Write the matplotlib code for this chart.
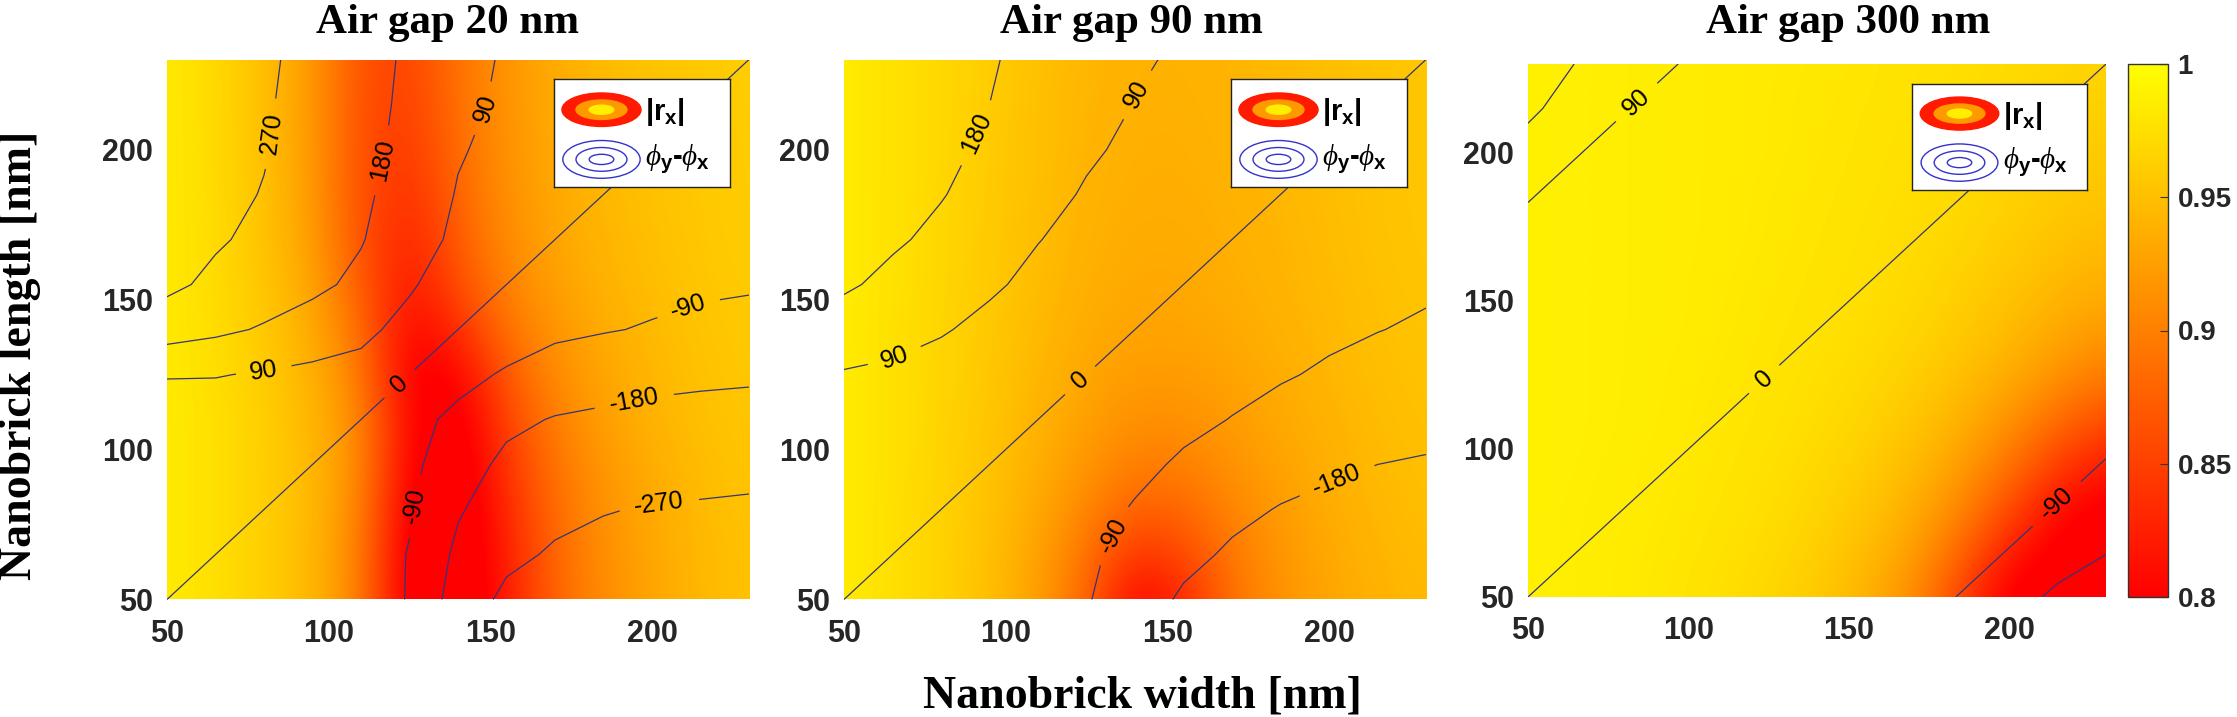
import numpy as np
import matplotlib.pyplot as plt
from matplotlib.patches import Ellipse

# fonte sans para numeros e rotulos de contorno
plt.rcParams['font.family'] = 'Liberation Sans'
plt.rcParams['mathtext.fontset'] = 'custom'
plt.rcParams['mathtext.rm'] = 'Liberation Sans'
plt.rcParams['mathtext.it'] = 'Liberation Serif:italic'
plt.rcParams['mathtext.bf'] = 'Liberation Sans:bold'
plt.rcParams['contour.negative_linestyle'] = 'solid'

# =============================================================================
# DADOS - grade de largura x comprimento [nm]
# linhas = comprimento (crescente), colunas = largura (crescente)
# =============================================================================
width_nm = [50, 65, 80, 95, 110, 125, 140, 155, 170, 185, 200, 215, 230]
length_nm = [50, 65, 80, 95, 110, 125, 140, 155, 170, 185, 200, 215, 230]

titles = ['Air gap 20 nm', 'Air gap 90 nm', 'Air gap 300 nm']
phase_levels = [-270, -180, -90, 0, 90, 180, 270]
cbar_ticks = [0.8, 0.85, 0.9, 0.95, 1.0]
cbar_labels = ['0.8', '0.85', '0.9', '0.95', '1']
axis_ticks = [50, 100, 150, 200]

# |r_x| - gap 20 nm
rx_gap20 = [
    [0.985, 0.975, 0.962, 0.945, 0.900, 0.780, 0.770, 0.820, 0.880, 0.910, 0.930, 0.944, 0.952],
    [0.985, 0.975, 0.962, 0.945, 0.900, 0.780, 0.770, 0.825, 0.882, 0.912, 0.931, 0.945, 0.952],
    [0.985, 0.975, 0.962, 0.945, 0.905, 0.785, 0.772, 0.832, 0.886, 0.915, 0.933, 0.946, 0.953],
    [0.985, 0.975, 0.962, 0.945, 0.908, 0.795, 0.776, 0.842, 0.892, 0.919, 0.936, 0.948, 0.954],
    [0.985, 0.975, 0.962, 0.944, 0.906, 0.800, 0.782, 0.855, 0.900, 0.925, 0.940, 0.950, 0.955],
    [0.984, 0.974, 0.960, 0.940, 0.897, 0.790, 0.800, 0.870, 0.910, 0.930, 0.943, 0.952, 0.957],
    [0.984, 0.973, 0.958, 0.935, 0.885, 0.800, 0.835, 0.890, 0.918, 0.935, 0.946, 0.953, 0.958],
    [0.984, 0.972, 0.955, 0.930, 0.870, 0.815, 0.860, 0.903, 0.925, 0.940, 0.948, 0.955, 0.959],
    [0.984, 0.972, 0.953, 0.925, 0.862, 0.825, 0.872, 0.910, 0.930, 0.942, 0.950, 0.956, 0.960],
    [0.984, 0.971, 0.952, 0.922, 0.860, 0.835, 0.880, 0.913, 0.932, 0.944, 0.951, 0.957, 0.960],
    [0.984, 0.971, 0.951, 0.921, 0.860, 0.842, 0.885, 0.915, 0.933, 0.945, 0.952, 0.957, 0.960],
    [0.984, 0.970, 0.950, 0.920, 0.860, 0.848, 0.888, 0.916, 0.934, 0.946, 0.952, 0.958, 0.961],
    [0.984, 0.970, 0.950, 0.920, 0.862, 0.852, 0.890, 0.917, 0.935, 0.946, 0.953, 0.958, 0.961],
]

# phi_y - phi_x [graus] - gap 20 nm
phase_gap20 = [
    [0, -8, -18, -30, -45, -95, -222, -288, -300, -307, -312, -316, -320],
    [8, 0, -10, -25, -42, -94, -198, -252, -279, -288, -293, -297, -300],
    [18, 10, 0, -15, -38, -83, -172, -226, -251, -267, -274, -277, -280],
    [30, 25, 15, 0, -25, -70, -141, -199, -218, -231, -240, -246, -251],
    [45, 42, 38, 25, 0, -64, -109, -161, -185, -195, -203, -207, -211],
    [95, 94, 83, 70, 64, 0, -65, -99, -126, -143, -157, -164, -168],
    [222, 198, 172, 141, 109, 65, 0, -48, -74, -85, -96, -109, -116],
    [288, 252, 226, 199, 161, 99, 48, 0, -37, -57, -69, -77, -82],
    [300, 279, 251, 218, 185, 126, 74, 37, 0, -28, -46, -58, -66],
    [307, 288, 267, 231, 195, 143, 85, 57, 28, 0, -23, -39, -49],
    [312, 293, 274, 240, 203, 157, 96, 69, 46, 23, 0, -19, -33],
    [316, 297, 277, 246, 207, 164, 109, 77, 58, 39, 19, 0, -16],
    [320, 300, 280, 251, 211, 168, 116, 82, 66, 49, 33, 16, 0],
]

# |r_x| - gap 90 nm
rx_gap90 = [
    [0.985, 0.975, 0.965, 0.950, 0.925, 0.880, 0.800, 0.830, 0.890, 0.915, 0.930, 0.940, 0.945],
    [0.985, 0.975, 0.965, 0.950, 0.928, 0.890, 0.840, 0.855, 0.895, 0.918, 0.932, 0.942, 0.947],
    [0.985, 0.975, 0.965, 0.952, 0.932, 0.905, 0.875, 0.880, 0.905, 0.922, 0.935, 0.944, 0.949],
    [0.985, 0.976, 0.966, 0.953, 0.937, 0.917, 0.898, 0.900, 0.915, 0.928, 0.938, 0.946, 0.950],
    [0.985, 0.976, 0.966, 0.955, 0.940, 0.925, 0.912, 0.913, 0.922, 0.932, 0.940, 0.947, 0.951],
    [0.985, 0.976, 0.967, 0.956, 0.943, 0.930, 0.922, 0.922, 0.928, 0.936, 0.943, 0.949, 0.952],
    [0.985, 0.976, 0.967, 0.957, 0.945, 0.934, 0.928, 0.928, 0.933, 0.939, 0.945, 0.950, 0.953],
    [0.985, 0.977, 0.968, 0.958, 0.947, 0.937, 0.932, 0.932, 0.936, 0.941, 0.946, 0.951, 0.954],
    [0.985, 0.977, 0.968, 0.958, 0.948, 0.939, 0.934, 0.934, 0.938, 0.942, 0.947, 0.952, 0.955],
    [0.985, 0.977, 0.968, 0.959, 0.949, 0.940, 0.936, 0.936, 0.939, 0.943, 0.948, 0.952, 0.955],
    [0.985, 0.977, 0.969, 0.959, 0.950, 0.941, 0.937, 0.937, 0.940, 0.944, 0.948, 0.953, 0.956],
    [0.985, 0.977, 0.969, 0.960, 0.950, 0.942, 0.938, 0.938, 0.941, 0.945, 0.949, 0.953, 0.956],
    [0.985, 0.977, 0.969, 0.960, 0.951, 0.943, 0.939, 0.939, 0.942, 0.945, 0.949, 0.953, 0.956],
]

# phi_y - phi_x [graus] - gap 90 nm
phase_gap90 = [
    [0, -12, -27, -44, -62, -84, -138, -192, -212, -224, -232, -238, -242],
    [12, 0, -16, -36, -55, -76, -117, -159, -191, -204, -213, -219, -223],
    [27, 16, 0, -22, -43, -62, -96, -129, -162, -184, -194, -199, -204],
    [44, 36, 22, 0, -28, -46, -72, -100, -127, -151, -170, -180, -186],
    [62, 55, 43, 28, 0, -26, -48, -73, -92, -115, -135, -149, -159],
    [84, 76, 62, 46, 26, 0, -24, -49, -69, -83, -100, -118, -129],
    [138, 117, 96, 72, 48, 24, 0, -24, -46, -62, -76, -88, -100],
    [192, 159, 129, 100, 73, 49, 24, 0, -23, -42, -57, -71, -79],
    [212, 191, 162, 127, 92, 69, 46, 23, 0, -21, -38, -53, -63],
    [224, 204, 184, 151, 115, 83, 62, 42, 21, 0, -19, -35, -48],
    [232, 213, 194, 170, 135, 100, 76, 57, 38, 19, 0, -18, -32],
    [238, 219, 199, 180, 149, 118, 88, 71, 53, 35, 18, 0, -16],
    [242, 223, 204, 186, 159, 129, 100, 79, 63, 48, 32, 16, 0],
]

# |r_x| - gap 300 nm
rx_gap300 = [
    [0.988, 0.986, 0.984, 0.980, 0.975, 0.968, 0.958, 0.940, 0.910, 0.850, 0.790, 0.780, 0.780],
    [0.988, 0.986, 0.984, 0.981, 0.977, 0.971, 0.962, 0.948, 0.925, 0.880, 0.820, 0.790, 0.780],
    [0.988, 0.986, 0.985, 0.982, 0.979, 0.974, 0.966, 0.955, 0.937, 0.905, 0.860, 0.810, 0.790],
    [0.988, 0.987, 0.985, 0.983, 0.980, 0.976, 0.970, 0.961, 0.947, 0.925, 0.890, 0.850, 0.820],
    [0.988, 0.987, 0.986, 0.984, 0.981, 0.978, 0.973, 0.966, 0.955, 0.940, 0.915, 0.885, 0.860],
    [0.988, 0.987, 0.986, 0.984, 0.982, 0.979, 0.975, 0.970, 0.962, 0.950, 0.935, 0.915, 0.895],
    [0.988, 0.987, 0.986, 0.985, 0.983, 0.980, 0.977, 0.973, 0.967, 0.958, 0.946, 0.932, 0.920],
    [0.988, 0.987, 0.986, 0.985, 0.983, 0.981, 0.978, 0.975, 0.970, 0.963, 0.954, 0.944, 0.936],
    [0.988, 0.987, 0.986, 0.985, 0.984, 0.982, 0.979, 0.976, 0.972, 0.967, 0.960, 0.952, 0.946],
    [0.988, 0.987, 0.986, 0.985, 0.984, 0.982, 0.980, 0.977, 0.974, 0.970, 0.964, 0.958, 0.953],
    [0.988, 0.987, 0.986, 0.985, 0.984, 0.983, 0.981, 0.978, 0.975, 0.972, 0.967, 0.962, 0.958],
    [0.988, 0.987, 0.986, 0.985, 0.984, 0.983, 0.981, 0.979, 0.976, 0.973, 0.969, 0.965, 0.962],
    [0.988, 0.987, 0.986, 0.985, 0.984, 0.983, 0.982, 0.980, 0.977, 0.975, 0.971, 0.968, 0.965],
]

# phi_y - phi_x [graus] - gap 300 nm
phase_gap300 = [
    [0, -9, -18, -27, -36, -45, -54, -64, -75, -92, -140, -200, -225],
    [9, 0, -9, -18, -27, -36, -45, -54, -64, -75, -92, -135, -178],
    [18, 9, 0, -9, -18, -27, -36, -45, -54, -64, -75, -92, -132],
    [27, 18, 9, 0, -9, -18, -27, -36, -45, -54, -64, -75, -92],
    [36, 27, 18, 9, 0, -9, -18, -27, -36, -45, -54, -64, -75],
    [45, 36, 27, 18, 9, 0, -9, -18, -27, -36, -45, -54, -64],
    [54, 45, 36, 27, 18, 9, 0, -9, -18, -27, -36, -45, -54],
    [64, 54, 45, 36, 27, 18, 9, 0, -9, -18, -27, -36, -45],
    [75, 64, 54, 45, 36, 27, 18, 9, 0, -9, -18, -27, -36],
    [92, 75, 64, 54, 45, 36, 27, 18, 9, 0, -9, -18, -27],
    [140, 92, 75, 64, 54, 45, 36, 27, 18, 9, 0, -9, -18],
    [200, 135, 92, 75, 64, 54, 45, 36, 27, 18, 9, 0, -9],
    [225, 178, 132, 92, 75, 64, 54, 45, 36, 27, 18, 9, 0],
]

rx_all = [rx_gap20, rx_gap90, rx_gap300]
phase_all = [phase_gap20, phase_gap90, phase_gap300]

# posicao aproximada dos rotulos de contorno (largura, comprimento), como na figura
label_spots = [
    [(84, 205), (118, 196), (80, 126), (145, 215), (121, 123), (127, 81), (212, 145), (194, 119), (202, 84)],
    [(92, 205), (66, 130), (141, 218), (123, 123), (132, 72), (202, 91)],
    [(83, 218), (124, 123), (215, 81)],
]

# =============================================================================
# LAYOUT (fracoes da figura)
# =============================================================================
fig = plt.figure(figsize=(22.37, 7.17), dpi=100)

axes_pos = [
    [167 / 2237, 117.5 / 717, 582 / 2237, 540 / 717],
    [844 / 2237, 117.5 / 717, 582 / 2237, 540 / 717],
    [1528 / 2237, 120 / 717, 578 / 2237, 533 / 717],
]
title_x = [447 / 2237, 1131 / 2237, 1848 / 2237]

tick_color = '#262626'
line_color = '#34347a'
half = (width_nm[1] - width_nm[0]) / 2

for i in range(3):
    ax = fig.add_axes(axes_pos[i])

    # mapa de cores |r_x|
    im = ax.imshow(np.array(rx_all[i]), origin='lower', cmap='autumn', vmin=0.8, vmax=1.0,
                   extent=[width_nm[0] - half, width_nm[-1] + half, length_nm[0] - half, length_nm[-1] + half],
                   interpolation='bicubic', aspect='auto')

    # contornos da diferenca de fase
    cs = ax.contour(width_nm, length_nm, np.array(phase_all[i]), levels=phase_levels,
                    colors=line_color, linewidths=0.9)
    ax.clabel(cs, fmt='%d', fontsize=18, colors='black', inline_spacing=12,
              manual=label_spots[i])

    ax.set_xlim(50, 230)
    ax.set_ylim(50, 230)
    ax.set_xticks(axis_ticks)
    ax.set_yticks(axis_ticks)
    ax.tick_params(axis='x', length=0, pad=14, labelsize=22, labelcolor=tick_color)
    ax.tick_params(axis='y', length=0, pad=10, labelsize=22, labelcolor=tick_color)
    for lbl in ax.get_xticklabels() + ax.get_yticklabels():
        lbl.set_fontweight('bold')
    for s in ax.spines.values():
        s.set_visible(False)

    # legenda desenhada (caixa branca)
    leg = ax.inset_axes([0.665, 0.763, 0.302, 0.2])
    leg.set_xlim(0, 1)
    leg.set_ylim(0, 1)
    leg.set_xticks([])
    leg.set_yticks([])
    leg.set_facecolor('white')
    for s in leg.spines.values():
        s.set_linewidth(1.0)
        s.set_color('#222222')
    leg.add_patch(Ellipse((0.27, 0.72), 0.45, 0.31, color='#ff1a00'))
    leg.add_patch(Ellipse((0.27, 0.72), 0.29, 0.18, color='#ff9900'))
    leg.add_patch(Ellipse((0.27, 0.72), 0.14, 0.085, color='#ffee00'))
    for w_e, h_e in [(0.44, 0.35), (0.29, 0.22), (0.14, 0.095)]:
        leg.add_patch(Ellipse((0.27, 0.26), w_e, h_e, fill=False, edgecolor='#3333cc', linewidth=1.0))
    leg.text(0.52, 0.70, r'|r$_\mathbf{x}$|', fontsize=21, fontweight='bold', va='center', ha='left')
    leg.text(0.52, 0.27, r'$\phi_\mathbf{y}$-$\phi_\mathbf{x}$', fontsize=21, fontweight='bold',
             va='center', ha='left')

    fig.text(title_x[i], 1 - 33 / 717, titles[i], fontsize=31, fontweight='bold',
             family='Liberation Serif', ha='center', va='baseline')

# barra de cores
cax = fig.add_axes([2128 / 2237, 120 / 717, 40 / 2237, 533 / 717])
cb = fig.colorbar(im, cax=cax, ticks=cbar_ticks)
cb.ax.set_yticklabels(cbar_labels)
cb.ax.tick_params(direction='in', length=6, width=0.8, color='#333333', pad=7,
                  labelsize=20, labelcolor=tick_color)
for lbl in cb.ax.get_yticklabels():
    lbl.set_fontweight('bold')
cb.outline.set_edgecolor('#333333')
cb.outline.set_linewidth(1.0)

# rotulos dos eixos
fig.text(1142 / 2237, 1 - 708 / 717, 'Nanobrick width [nm]', fontsize=33, fontweight='bold',
         family='Liberation Serif', ha='center', va='baseline')
fig.text(20 / 2237, 1 - 355 / 717, 'Nanobrick length [nm]', fontsize=33, fontweight='bold',
         family='Liberation Serif', ha='center', va='center', rotation=90)

fig.savefig('out.png', dpi=100)
